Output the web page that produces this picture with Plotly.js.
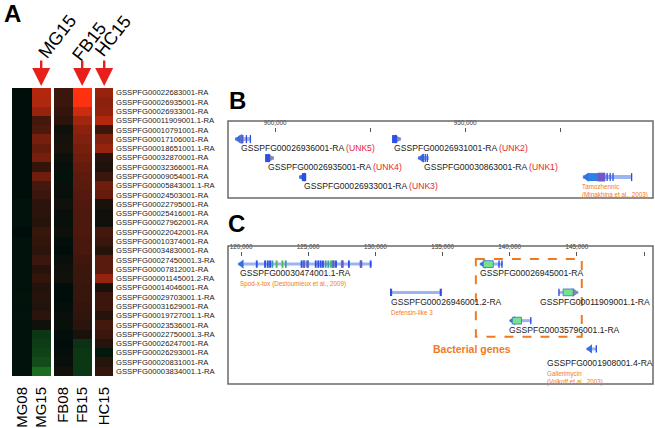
<!DOCTYPE html>
<html lang="en">
<head>
<meta charset="UTF-8">
<title>Bacterial genes</title>
<script src="https://cdn.plot.ly/plotly-3.0.1.min.js"></script>
<style>
  * { margin: 0; padding: 0; box-sizing: border-box; }
  body { background: #fff; }
  #chart { width: 655px; height: 428px; }
</style>
</head>
<body>
<div id="chart"></div>
<script>
  // ---- panel A : expression heatmap ----
  const genes = [
    'GSSPFG00022683001-RA', 'GSSPFG00026935001-RA', 'GSSPFG00026933001-RA', 'GSSPFG00011909001.1-RA',
    'GSSPFG00010791001-RA', 'GSSPFG00017106001-RA', 'GSSPFG00018651001.1-RA', 'GSSPFG00032870001-RA',
    'GSSPFG00032366001-RA', 'GSSPFG00009054001-RA', 'GSSPFG00005843001.1-RA', 'GSSPFG00024503001-RA',
    'GSSPFG00022795001-RA', 'GSSPFG00025416001-RA', 'GSSPFG00027962001-RA', 'GSSPFG00022042001-RA',
    'GSSPFG00010374001-RA', 'GSSPFG00034830001-RA', 'GSSPFG00027450001.3-RA', 'GSSPFG00007812001-RA',
    'GSSPFG00001145001.2-RA', 'GSSPFG00014046001-RA', 'GSSPFG00029703001.1-RA', 'GSSPFG00031629001-RA',
    'GSSPFG00019727001.1-RA', 'GSSPFG00023536001-RA', 'GSSPFG00022750001.3-RA', 'GSSPFG00026247001-RA',
    'GSSPFG00026293001-RA', 'GSSPFG00020831001-RA', 'GSSPFG00003834001.1-RA'
  ];
  const mg08 = [0, 0, 0, 0, 0, 0, 0, 0, 0, 0, 0, 0, -0.03, -0.03, -0.03, 0, -0.03, -0.03, -0.03, -0.03,
    -0.03, -0.03, -0.05, -0.03, -0.05, -0.03, -0.03, -0.03, -0.03, -0.03, -0.03];
  const mg15 = [2.1, 2.05, 1.75, 0.8, 0.9, 1.4, 1.2, 1.4, 0.6, 1.3, 0.8, 0.7, 0.5, 0.5, 0.45, 0.65, 0.6, 0.5, 0.7,
    0.45, 0.6, 0.4, 0.45, 0.4, 0.5, 0.2, -0.4, -0.45, -0.5, -0.6, -0.9];
  const fb08 = [0.7, 0.7, 0.6, 0.5, 0.15, 0.25, 0.3, 0.15, 0.1, -0.05, 0.1, 0.1, 0.2, 0.1, 0.1, 0.15, 0.05, 0, 0.1,
    0.15, 0.2, 0, 0, 0.05, 0.1, 0.1, 0.05, 0, 0.05, 0.1, 0.2];
  const fb15 = [3.0, 2.95, 2.4, 1.9, 1.65, 1.5, 1.4, 1.3, 1.2, 1.1, 1.05, 1.0, 0.95, 0.9, 0.9, 0.9, 0.85, 0.85, 0.75,
    0.7, 0.7, 0.65, 0.65, 0.6, 0.55, 0.5, 0.3, -0.35, -0.4, -0.4, -0.4];
  const hc15 = [1.75, 1.65, 1.7, 2.1, 0.7, 1.5, 1.75, 0.45, 0.35, 0.7, 1.3, 1.2, 0.3, 0.2, 0.2, 0.8, 0.7, 0.45, 1.05,
    1.05, 1.75, 0.3, 0.7, 0.7, 0.45, 0.8, 0.7, 0.45, -0.1, 0.45, 0.6];

  // ---- panel B : locus around 900-1000 kb ----
  const bIds = ['GSSPFG00026936001-RA', 'GSSPFG00026935001-RA', 'GSSPFG00026933001-RA',
    'GSSPFG00026931001-RA', 'GSSPFG00030863001-RA', ''];
  const bTags = ['UNK5', 'UNK4', 'UNK3', 'UNK2', 'UNK1', ''];
  const bNotes = ['', '', '', '', '', 'Tamozhennic<br>(Minakhina et al., 2003)'];
  const bStart = [889500, 897400, 906300, 930800, 937600, 981000];
  const bEnd = [893700, 899700, 908200, 933100, 940500, 993900];
  const bRow = [1, 2, 3, 1, 2, 3];
  const bStrand = [-1, 1, -1, 1, -1, -1];
  const bLabelX = [890500, 897600, 907100, 930800, 938700, 980200];
  const bExons = [
    [[891000, 891600, 'p'], [892300, 892550, 'b'], [893350, 893600, 'b']],
    [[897400, 898700, 'b']],
    [[907100, 908200, 'b']],
    [[930800, 932100, 'b']],
    [[938800, 939050, 'b'], [939350, 939600, 'b'], [939900, 940150, 'b']],
    [[982300, 984950, 'm'], [984950, 986800, 'p'], [987200, 987450, 'b'], [988000, 988250, 'b'],
      [988750, 989000, 'b'], [993650, 993900, 'b']]
  ];
  const bTicks = [900000, 925000, 950000, 975000];
  const bTickText = ['900,000', '', '950,000', ''];

  // ---- panel C : locus around 120-150 kb ----
  const cIds = ['GSSPFG00030474001.1-RA', 'GSSPFG00026946001.2-RA', 'GSSPFG00026945001-RA',
    'GSSPFG00011909001.1-RA', 'GSSPFG00035796001.1-RA', 'GSSPFG0001908001.4-RA'];
  const cNotes = ['Spod-x-tox (Destoumieux et al., 2009)', 'Defensin-like 3', '', '', '',
    'Gallerimycin<br>(Volkoff et al., 2003)'];
  const cStart = [119780, 131090, 137780, 143620, 139990, 145720];
  const cEnd = [129750, 134950, 139480, 145100, 141620, 146500];
  const cRow = [1, 2, 1, 2, 3, 4];
  const cStrand = [-1, 0, -1, 1, -1, -1];
  const cBacterial = [false, false, true, true, true, false];
  const cLabelX = [119780, 131010, 137630, 142100, 139790, 142620];
  const cLabelRow = [1.32, 2.35, 1.32, 2.35, 3.32, 4.5];
  const cExons = [
    [[121170, 'b'], [121790, 'b'], [121990, 'b'], [122160, 'b'], [122330, 't'], [122650, 'g'], [123080, 'g'],
      [123330, 't'], [124510, 'b'], [124690, 'p'], [124960, 'p'], [125560, 'b'], [125750, 'b'], [125930, 'b'],
      [126100, 'b'], [126300, 't'], [126500, 't'], [126700, 'g'], [126870, 'p'], [127070, 'b'], [127540, 'p'],
      [128030, 'b'], [128930, 'p'], [129650, 'b']].map(e => [e[0] - 70, e[0] + 70, e[1]]),
    [[131090, 131250, 'b'], [134790, 134950, 'b']],
    [[138030, 138780, 'G'], [139150, 139260, 'b'], [139370, 139480, 'b']],
    [[143620, 143720, 'b'], [143980, 144730, 'G']],
    [[140190, 140880, 'G'], [141520, 141620, 'b']],
    [[146400, 146500, 'b']]
  ];
  const cTicks = [120000, 125000, 130000, 135000, 140000, 145000, 150000];

  const W = 655, H = 428;
  const px = x => x / W;
  const py = y => 1 - y / H;
  const FONT = 'Liberation Sans, Arial, sans-serif';
  const ORANGE = '#f07a24';
  const exonColor = { b: '#2d4fe6', p: '#8150c4', t: '#3a9aa8', g: '#52b55a', m: '#2f7fe6', G: '#74e38c' };

  const bRange = [887630, 999440];
  const cRange = [119030, 150670];
  const bPerPx = (bRange[1] - bRange[0]) / 425;
  const cPerPx = (cRange[1] - cRange[0]) / 425;

  const heat = {
    colorscale: [[0, '#3cdc3c'], [0.4, '#000e0b'], [1, '#ff3210']],
    zmin: -2, zmax: 3, showscale: false, hoverinfo: 'skip', type: 'heatmap'
  };

  const traces = [
    Object.assign({ x: ['MG08', 'MG15'], y: genes, z: genes.map((g, i) => [mg08[i], mg15[i]]), xaxis: 'x', yaxis: 'y' }, heat),
    Object.assign({ x: ['FB08', 'FB15'], y: genes, z: genes.map((g, i) => [fb08[i], fb15[i]]), xaxis: 'x5', yaxis: 'y' }, heat),
    Object.assign({ x: ['HC15'], y: genes, z: genes.map((g, i) => [hc15[i]]), xaxis: 'x6', yaxis: 'y' }, heat)
  ];

  const shapes = [];
  const annotations = [];

  function track(ax, ay, start, end, row, strand, exons, perPx, lineW, h, barH) {
    // gene backbone
    const lx = [], ly = [];
    start.forEach((s, i) => { lx.push(s, end[i], null); ly.push(row[i], row[i], null); });
    traces.push({ x: lx, y: ly, xaxis: ax, yaxis: ay, mode: 'lines', hoverinfo: 'skip',
      line: { color: '#9db4f4', width: lineW } });
    // strand arrows
    const arX = [], arY = [], arS = [], arC = [];
    start.forEach((s, i) => {
      if (strand[i] === 0) return;
      arX.push(strand[i] < 0 ? s + 3.5 * perPx : end[i] - 3.5 * perPx);
      arY.push(row[i]);
      arS.push(strand[i] < 0 ? 'triangle-left' : 'triangle-right');
      arC.push(strand[i] < 0 ? '#3a6ee0' : '#7f88b0');
    });
    traces.push({ x: arX, y: arY, xaxis: ax, yaxis: ay, mode: 'markers', hoverinfo: 'skip',
      marker: { symbol: arS, size: 8, color: arC } });
    // exons
    exons.forEach((list, i) => {
      list.forEach(e => {
        const big = e[2] === 'G' || e[2] === 'm' || e[2] === 'p';
        const hh = big ? h : barH;
        shapes.push({
          type: 'rect', xref: ax, yref: ay, x0: e[0], x1: Math.max(e[1], e[0] + 1.3 * perPx),
          y0: row[i] - hh, y1: row[i] + hh, fillcolor: exonColor[e[2]],
          line: { width: e[2] === 'G' || e[2] === 'p' ? 0.8 : 0, color: '#3d6fc8' }
        });
      });
    });
  }

  track('x2', 'y2', bStart, bEnd, bRow, bStrand, bExons, bPerPx, 4, 0.21, 0.21);
  track('x3', 'y3', cStart, cEnd, cRow, cStrand, cExons, cPerPx, 3, 0.12, 0.13);

  // labels B
  bIds.forEach((id, i) => {
    if (id) {
      annotations.push({ xref: 'x2', yref: 'y2', x: bLabelX[i], y: bRow[i] + 0.47, xanchor: 'left', yanchor: 'middle',
        showarrow: false, font: { size: 8.6, color: '#1a1a1a' },
        text: id + ' <span style="color:#e8262a">(' + bTags[i] + ')</span>' });
    }
    if (bNotes[i]) {
      annotations.push({ xref: 'x2', yref: 'y2', x: bLabelX[i], y: bRow[i] + 0.2, xanchor: 'left', yanchor: 'top',
        align: 'left', showarrow: false, font: { size: 6.3, color: ORANGE }, text: bNotes[i] });
    }
  });

  // labels C
  cIds.forEach((id, i) => {
    annotations.push({ xref: 'x3', yref: 'y3', x: cLabelX[i], y: cLabelRow[i], xanchor: 'left', yanchor: 'middle',
      showarrow: false, font: { size: 8.6, color: '#1a1a1a' }, text: id });
    if (cNotes[i]) {
      annotations.push({ xref: 'x3', yref: 'y3', x: cLabelX[i], y: cLabelRow[i], yshift: -4.5, xanchor: 'left',
        yanchor: 'top', align: 'left', showarrow: false, font: { size: 6.3, color: ORANGE }, text: cNotes[i] });
    }
  });

  // bacterial box around the bacterial genes
  const bacStart = Math.min(...cStart.filter((s, i) => cBacterial[i]));
  const bacEnd = Math.max(...cEnd.filter((s, i) => cBacterial[i]));
  const bacRows = cRow.filter((r, i) => cBacterial[i]);
  shapes.push({ type: 'rect', xref: 'x3', yref: 'y3', x0: bacStart - 4 * cPerPx, x1: bacEnd + 3.6 * cPerPx,
    y0: Math.min(...bacRows) - 0.18, y1: Math.max(...bacRows) + 0.57,
    line: { color: ORANGE, width: 2, dash: 'dash' } });
  annotations.push({ xref: 'x3', yref: 'y3', x: 137190, y: 4, showarrow: false,
    font: { size: 10.5, color: ORANGE }, text: '<b>Bacterial genes</b>' });

  // panel frames
  ['2', '3'].forEach(n => shapes.push({ type: 'rect', xref: 'x' + n + ' domain', yref: 'y' + n + ' domain',
    x0: 0, x1: 1, y0: 0, y1: 1, line: { color: '#6a6a6a', width: 1.5 } }));

  // panel letters
  [['A', 12, 14], ['B', 237, 100], ['C', 236, 224]].forEach(p => annotations.push({
    xref: 'paper', yref: 'paper', x: px(p[1]), y: py(p[2]), xanchor: 'center', yanchor: 'middle', showarrow: false,
    font: { size: 24, color: '#000' }, text: '<b>' + p[0] + '</b>' }));

  // sample highlights above heatmap
  [['MG15', 'x', 57, 37], ['FB15', 'x5', 89, 42], ['HC15', 'x6', 113, 36]].forEach(s => {
    annotations.push({ xref: s[1], yref: 'paper', x: s[0], y: py(86), ax: 0, ay: -27, text: '',
      showarrow: true, arrowhead: 2, arrowsize: 1.5, arrowwidth: 2.4, arrowcolor: '#e8201c', standoff: 0 });
    annotations.push({ xref: 'paper', yref: 'paper', x: px(s[2]), y: py(s[3]), xanchor: 'center', yanchor: 'middle',
      showarrow: false, textangle: -52, font: { size: 18, color: '#000' }, text: s[0] });
  });

  const hx = { showgrid: false, zeroline: false, ticks: 'outside', ticklen: 4, tickcolor: 'rgba(0,0,0,0)',
    showline: false, anchor: 'y', side: 'bottom', tickangle: -90,
    tickfont: { size: 15, color: '#000' }, fixedrange: true };

  const layout = {
    width: W, height: H,
    margin: { l: 0, r: 0, t: 0, b: 0 },
    paper_bgcolor: '#fff', plot_bgcolor: 'rgba(0,0,0,0)',
    font: { family: FONT, color: '#222' },
    showlegend: false,
    xaxis: Object.assign({ domain: [px(12), px(52)] }, hx),
    xaxis5: Object.assign({ domain: [px(54), px(93)] }, hx),
    xaxis6: Object.assign({ domain: [px(95), px(115)] }, hx),
    yaxis: { domain: [py(376), py(88)], anchor: 'x6', side: 'right', autorange: 'reversed', type: 'category',
      showgrid: false, zeroline: false, ticks: '', tickfont: { size: 7.7, color: '#222' } },
    xaxis2: { domain: [px(228), px(653)], range: bRange, anchor: 'free', position: py(132), side: 'top',
      ticks: 'outside', ticklen: 4, tickcolor: '#555', tickvals: bTicks, ticktext: bTickText,
      tickfont: { size: 6.3, color: '#333' }, showline: false, showgrid: false, zeroline: false },
    yaxis2: { domain: [py(198), py(121)], range: [4.1, 0.05], anchor: 'x2', visible: false },
    xaxis3: { domain: [px(228), px(653)], range: cRange, anchor: 'free', position: py(256), side: 'top',
      ticks: 'outside', ticklen: 4, tickcolor: '#555', tickvals: cTicks, tickformat: ',d',
      tickfont: { size: 6.3, color: '#333' }, showline: false, showgrid: false, zeroline: false },
    yaxis3: { domain: [py(384), py(246)], range: [5.24, 0.36], anchor: 'x3', visible: false },
    shapes: shapes,
    annotations: annotations
  };

  Plotly.newPlot('chart', traces, layout, { displayModeBar: false, staticPlot: true });
</script>
</body>
</html>
